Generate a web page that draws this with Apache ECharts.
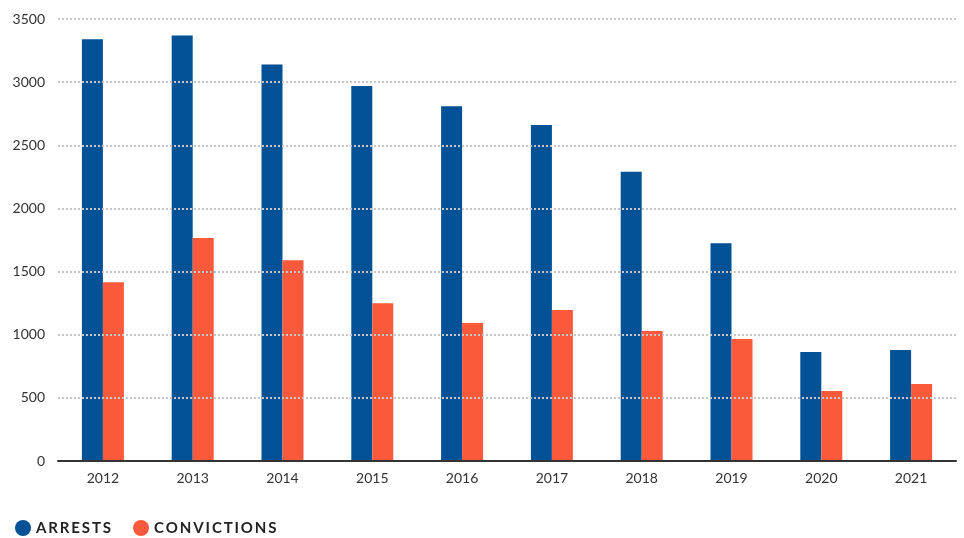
<!DOCTYPE html>
<html>
<head>
<meta charset="utf-8">
<style>
  html, body { margin: 0; padding: 0; background: #fff; }
  #chart { width: 964px; height: 538px; }
</style>
<script src="https://cdn.jsdelivr.net/npm/echarts@6/dist/echarts.min.js"></script>
</head>
<body>
<div id="chart"></div>
<script>
// Yearly counts of arrests and convictions
const years = ['2012', '2013', '2014', '2015', '2016', '2017', '2018', '2019', '2020', '2021'];
const arrests = [3340, 3370, 3140, 2970, 2810, 2660, 2290, 1725, 863, 878];
const convictions = [1415, 1765, 1590, 1250, 1092, 1196, 1030, 966, 554, 610];
const yTicks = [0, 500, 1000, 1500, 2000, 2500, 3000, 3500];

const FONT = 'Lato, "Noto Sans", sans-serif';
const BLUE = '#005196';
const ORANGE = '#FA5A3B';

// Spread the legend captions out with hair spaces between letters
const spaced = s => s.split('').join('\u200A\u200A');

const chart = echarts.init(document.getElementById('chart'), null, { renderer: 'canvas' });
chart.setOption({
  animation: false,
  backgroundColor: '#fff',
  grid: { left: 58, right: 8, top: 19, bottom: 77, containLabel: false },
  legend: {
    left: 10,
    top: 515,
    itemWidth: 16,
    itemHeight: 16,
    itemGap: 22,
    icon: 'circle',
    textStyle: { fontFamily: FONT, fontSize: 15, fontWeight: 'bold', color: '#222' },
    formatter: name => spaced(name),
    data: ['ARRESTS', 'CONVICTIONS']
  },
  xAxis: {
    type: 'category',
    data: years,
    z: 6,
    axisLine: { lineStyle: { color: '#333', width: 2 } },
    axisTick: { show: false },
    axisLabel: { fontFamily: FONT, fontSize: 14, color: '#333', margin: 10 }
  },
  yAxis: {
    type: 'value',
    min: yTicks[0],
    max: yTicks[yTicks.length - 1],
    interval: yTicks[1] - yTicks[0],
    z: 5,
    axisLine: { show: false },
    axisTick: { show: false },
    axisLabel: {
      fontFamily: FONT, fontSize: 14, color: '#333', margin: 13,
      formatter: v => String(v)
    },
    splitLine: { lineStyle: { color: '#c6c6c6', width: 2, type: [2, 2] } }
  },
  series: [
    {
      name: 'ARRESTS',
      type: 'bar',
      data: arrests,
      barWidth: 21,
      barGap: '0%',
      itemStyle: { color: BLUE }
    },
    {
      name: 'CONVICTIONS',
      type: 'bar',
      data: convictions,
      barWidth: 21,
      barGap: '0%',
      itemStyle: { color: ORANGE }
    }
  ]
});
</script>
</body>
</html>
